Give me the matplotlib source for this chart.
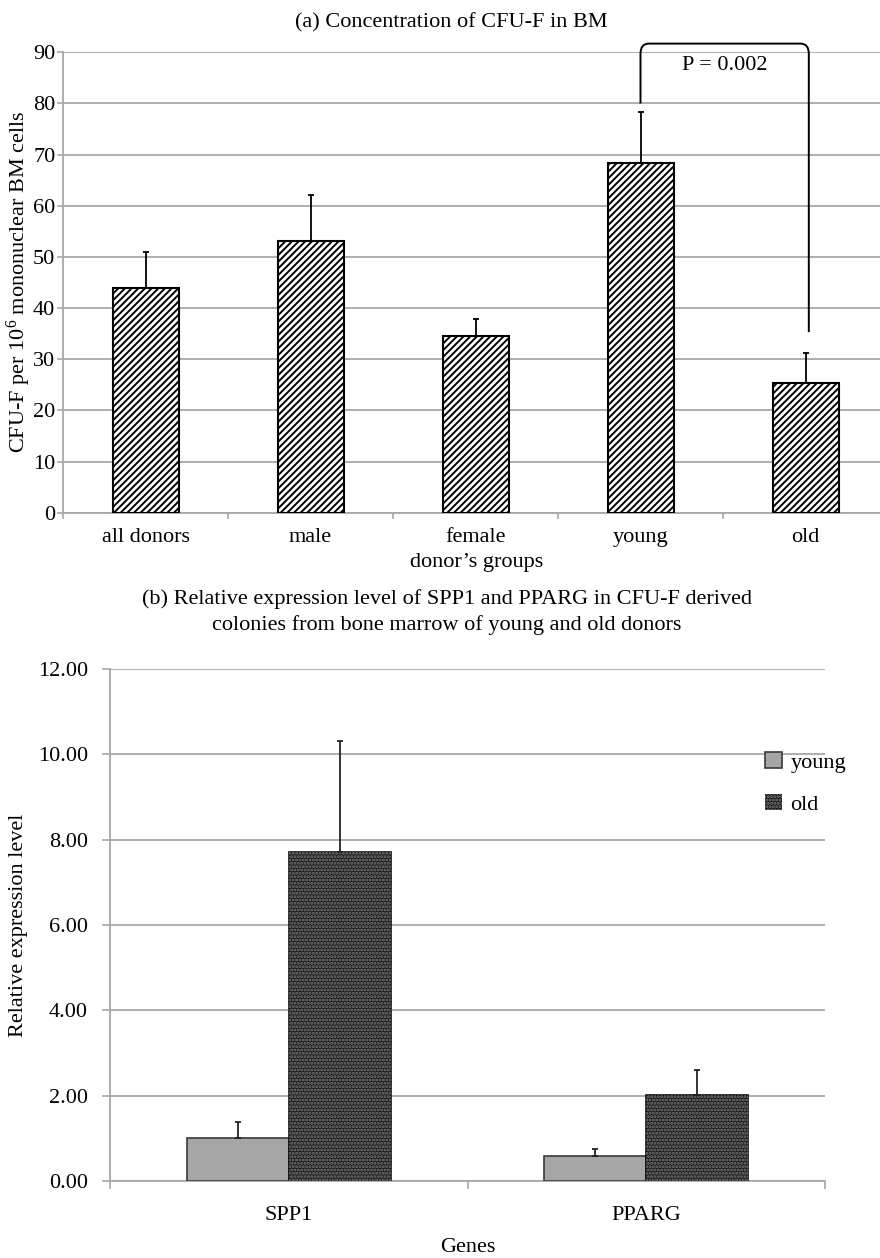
import matplotlib
matplotlib.use("Agg")
import matplotlib.pyplot as plt
import numpy as np
from matplotlib.patches import Patch
from matplotlib.path import Path
from matplotlib.patches import PathPatch

plt.rcParams['font.family'] = ['Liberation Serif', 'DejaVu Serif']
plt.rcParams['mathtext.fontset'] = 'custom'
plt.rcParams['mathtext.rm'] = 'Liberation Serif'
plt.rcParams['mathtext.it'] = 'Liberation Serif:italic'
plt.rcParams['hatch.linewidth'] = 1.4

# ---------------- data: panel (a) ----------------
groups = ["all donors", "male", "female", "young", "old"]
cfu_mean = [44.0, 53.2, 34.5, 68.3, 25.3]
cfu_err = [7.0, 8.9, 3.4, 10.0, 6.0]
a_yticks = [0, 10, 20, 30, 40, 50, 60, 70, 80, 90]
p_text = "P = 0.002"
bracket_top = 91.7
bracket_left_end = 80.0
bracket_right_end = 35.3

# ---------------- data: panel (b) ----------------
genes = ["SPP1", "PPARG"]
young_mean = [1.00, 0.59]
young_err = [0.39, 0.17]
old_mean = [7.70, 2.01]
old_err = [2.62, 0.59]
b_yticks = [0, 2, 4, 6, 8, 10, 12]

GRID = '#a8a8a8'
FS = 16

fig = plt.figure(figsize=(8.8, 12.58), dpi=100)

# ================= panel (a) =================
ax1 = fig.add_axes([63/880, 1-512.7/1258, 817/880, (512.7-52.3)/1258])
x = np.arange(len(groups))
ax1.bar(x, cfu_mean, width=0.4, facecolor='white', edgecolor='black',
        hatch='/////', linewidth=1.5, zorder=3)
ax1.errorbar(x, cfu_mean, yerr=[np.zeros(len(x)), cfu_err], fmt='none',
             ecolor='black', elinewidth=1.3, capsize=2.5, capthick=1.3, zorder=4)
ax1.set_xlim(-0.5, -0.5 + 817/165)
ax1.set_ylim(0, 90)
ax1.set_yticks(a_yticks)
ax1.set_yticklabels([str(v) for v in a_yticks], fontsize=FS)
ax1.yaxis.grid(True, color=GRID, linewidth=1.3, zorder=0)
ax1.set_axisbelow(True)
ax1.tick_params(axis='y', length=4.5, width=1.2, color=GRID, pad=1)
ax1.set_xticks(np.arange(len(groups)) - 0.5)
ax1.set_xticklabels([''] * len(groups))
ax1.set_xticks(x, minor=True)
ax1.set_xticklabels(groups, minor=True, fontsize=FS)
ax1.tick_params(axis='x', which='major', length=4.5, width=1.2, color=GRID)
ax1.tick_params(axis='x', which='minor', length=0, pad=11)
for s in ['top', 'right']:
    ax1.spines[s].set_visible(False)
for s in ['left', 'bottom']:
    ax1.spines[s].set_color(GRID)
    ax1.spines[s].set_linewidth(1.3)
ax1.set_xlabel("donor\u2019s groups", fontsize=FS)
ax1.xaxis.set_label_coords((477-63)/817, -0.087)

# significance bracket (rounded corners)
xl, xr = 3.0, 4.02
rx, ry = 0.05, 2.0
verts = [(xl, bracket_left_end), (xl, bracket_top - ry), (xl, bracket_top), (xl + rx, bracket_top),
         (xr - rx, bracket_top), (xr, bracket_top), (xr, bracket_top - ry), (xr, bracket_right_end)]
codes = [Path.MOVETO, Path.LINETO, Path.CURVE3, Path.CURVE3,
         Path.LINETO, Path.CURVE3, Path.CURVE3, Path.LINETO]
ax1.add_patch(PathPatch(Path(verts, codes), facecolor='none', edgecolor='black',
                        linewidth=1.4, clip_on=False, zorder=5))
ax1.text((xl + xr) / 2, 87.4, p_text, ha='center', va='center', fontsize=FS)

fig.text(451/880, 1-23/1258, "(a) Concentration of CFU-F in BM", ha='center', va='center', fontsize=FS)
fig.text(19/880, 1-282/1258, "CFU-F per 10$^{6}$ mononuclear BM cells", rotation=90,
         ha='center', va='center', fontsize=FS)

# ================= panel (b) =================
ax2 = fig.add_axes([110/880, 1-1181/1258, 715/880, (1181-669)/1258])
xg = np.arange(len(genes))
w = 0.285
ax2.bar(xg - w/2, young_mean, width=w, facecolor='#a6a6a6', edgecolor='#3a3a3a',
        linewidth=1.2, zorder=3)
ax2.bar(xg + w/2, old_mean, width=w, facecolor='#1c1c1c', edgecolor='#111111',
        linewidth=1.2, zorder=3)
ax2.bar(xg + w/2, old_mean, width=w, facecolor='none', edgecolor='#7a7a7a',
        hatch='.....', linewidth=0, zorder=3.5)
ax2.errorbar(xg - w/2, young_mean, yerr=[np.zeros(len(xg)), young_err], fmt='none',
             ecolor='#222222', elinewidth=1.3, capsize=2.5, capthick=1.3, zorder=4)
ax2.errorbar(xg + w/2, old_mean, yerr=[np.zeros(len(xg)), old_err], fmt='none',
             ecolor='#222222', elinewidth=1.3, capsize=2.5, capthick=1.3, zorder=4)
ax2.set_xlim(-0.5, 1.5)
ax2.set_ylim(0, 12)
ax2.set_yticks(b_yticks)
ax2.set_yticklabels([f"{v:.2f}" for v in b_yticks], fontsize=FS)
ax2.yaxis.grid(True, color=GRID, linewidth=1.3, zorder=0)
ax2.set_axisbelow(True)
ax2.tick_params(axis='y', length=6, width=1.2, color=GRID, pad=10)
ax2.set_xticks([-0.5, 0.5, 1.5])
ax2.set_xticklabels(['', '', ''])
ax2.set_xticks(xg, minor=True)
ax2.set_xticklabels(genes, minor=True, fontsize=FS)
ax2.tick_params(axis='x', which='major', length=6, width=1.2, color=GRID)
ax2.tick_params(axis='x', which='minor', length=0, pad=18)
for s in ['top', 'right']:
    ax2.spines[s].set_visible(False)
for s in ['left', 'bottom']:
    ax2.spines[s].set_color(GRID)
    ax2.spines[s].set_linewidth(1.3)
ax2.set_xlabel("Genes", fontsize=FS)
ax2.xaxis.set_label_coords(0.5, -0.112)

fig.text(19/880, 1-925/1258, "Relative expression level", rotation=90,
         ha='center', va='center', fontsize=FS)
fig.text(447/880, 1-612/1258,
         "(b) Relative expression level of SPP1 and PPARG in CFU-F derived\ncolonies from bone marrow of young and old donors",
         ha='center', va='center', fontsize=FS, linespacing=1.35)

h_young = Patch(facecolor='#a6a6a6', edgecolor='#3a3a3a', linewidth=1.2)
h_old = Patch(facecolor='#1c1c1c', edgecolor='#7a7a7a', hatch='.....', linewidth=0)
fig.legend([h_young, h_old], ['young', 'old'], loc='upper left',
           bbox_to_anchor=(765/880, 1-752/1258), frameon=False, fontsize=FS,
           handlelength=0.75, handleheight=0.75, handletextpad=0.4, labelspacing=0.95,
           borderpad=0, borderaxespad=0)

fig.savefig("out.png", dpi=100)
